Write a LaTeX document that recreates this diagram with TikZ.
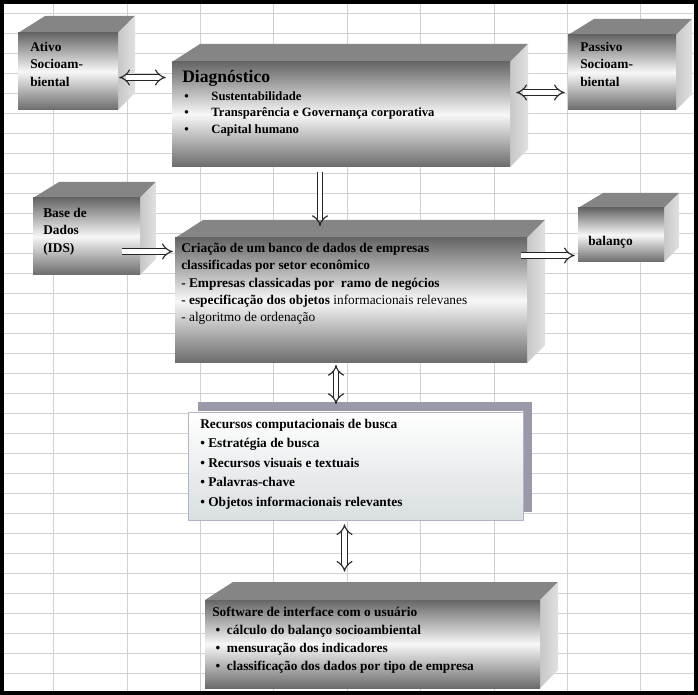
\documentclass[tikz,border=0pt]{standalone}
\usepackage{fontspec}
\setmainfont{Liberation Serif}
\usetikzlibrary{calc,fit,arrows.meta}

\tikzset{
  topface/.style={fill=black!48},
  sideface/.style={left color=black!22, right color=black!12},
  frontface/.style={top color=black!60, bottom color=black!58, middle color=black!3},
  txt/.style={anchor=north west, align=left, inner sep=0pt, font=\fontsize{9.5}{12.3}\selectfont\bfseries},
  harrow/.style={double=white, double distance=3.2pt, line width=0.8pt, draw=black!85},
  gridline/.style={draw=blue!20!black!18, line width=0.5pt}
}
% cube: name, x0, y0, x1, y1, depth
\newcommand\cube[6]{%
  \fill[topface] (#2,#3) -- (#2+#6+10,#3-#6) -- (#4+#6,#3-#6) -- (#4,#3) -- cycle;
  \shade[sideface] (#4,#3) -- (#4+#6,#3-#6) -- (#4+#6,#5-#6) -- (#4,#5) -- cycle;
  \shade[frontface] (#2,#3) rectangle (#4,#5);
  \coordinate (#1-nw) at (#2,#3);
  \coordinate (#1-se) at (#4,#5);
  \node[fit=(#1-nw)(#1-se), inner sep=0pt] (#1) {};
}

\begin{document}
\begin{tikzpicture}[x=0.025cm, y=-0.025cm]
  \useasboundingbox (0,0) rectangle (698,695);
  \fill[white] (0,0) rectangle (698,695);

  % grid
  \foreach \gx in {53,127,200,273,347,420,494,567,640}
    \draw[gridline] (\gx,4) -- (\gx,691);
  \foreach \gy in {13,33,...,693}
    \draw[gridline] (4,\gy) -- (694,\gy);

  % boxes
  \cube{ativo}{18}{33}{118}{110}{17}
  \cube{diag}{172}{62}{510}{167}{18}
  \cube{passivo}{568}{35}{676}{110}{16}
  \cube{base}{33}{198}{140}{275}{16}
  \cube{crea}{175}{238}{527}{363}{18}
  \cube{balanco}{578}{208}{664}{262}{15}
  \cube{soft}{205}{600}{540}{688}{18}

  % recursos box
  \fill[fill=blue!15!black!40] (198,402) rectangle (532,512);
  \shade[top color=white, bottom color=blue!30!cyan!20!black!15, draw=blue!30!black!30]
    (188,412) rectangle (523,520);
  \coordinate (rec-nw) at (188,412);
  \coordinate (rec-se) at (523,520);
  \node[fit=(rec-nw)(rec-se), inner sep=0pt] (rec) {};

  % texts
  \node[txt] (tativo) at (30,42) {Ativo\\Socioam-\\biental};
  \node[txt] (tpassivo) at (580,42) {Passivo\\Socioam-\\biental};
  \node[txt] (tbase) at (43,208) {Base de\\Dados\\(IDS)};
  \node[txt] (tbal) at (588,236) {balanço};
  \node[txt, font=\fontsize{12.5}{14}\selectfont\bfseries] (tdiag) at (182,70) {Diagnóstico};
  \node[txt, font=\fontsize{9}{11.8}\selectfont\bfseries] (tdiagl) at (184,91)
    {\textbullet\hspace{1.8em}Sustentabilidade\\
     \textbullet\hspace{1.8em}Transparência e Governança corporativa\\
     \textbullet\hspace{1.8em}Capital humano};
  \node[txt] (tcrea) at (181,243)
    {Criação de um banco de dados de empresas\\
     classificadas por setor econômico\\
     - Empresas classicadas por\ \ ramo de negócios\\
     - especificação dos objetos \mdseries informacionais relevanes\\
     \mdseries - algoritmo de ordenação};
  \node[txt, font=\fontsize{9.5}{13.8}\selectfont\bfseries] (trec) at (200,419)
    {Recursos computacionais de busca\\
     \textbullet\ Estratégia de busca\\
     \textbullet\ Recursos visuais e textuais\\
     \textbullet\ Palavras-chave\\
     \textbullet\ Objetos\ informacionais relevantes};
  \node[txt, font=\fontsize{9.5}{12.8}\selectfont\bfseries] (tsoft) at (212,607)
    {Software de interface com o usuário\\
     \ \textbullet\ \ cálculo do balanço socioambiental\\
     \ \textbullet\ \ mensuração dos indicadores\\
     \ \textbullet\ \ classificação dos dados por tipo de empresa};

  % connectors
  \draw[harrow, {Implies}-{Implies}] ($(ativo.east)+(1,6)$) -- ($(ativo.east -| diag.west)+(-6,6)$);
  \draw[harrow, {Implies}-{Implies}] ($(diag.east)+(6,-22)$) -- ($(diag.east -| passivo.west)+(-3,-22)$);
  \draw[harrow, -{Implies}] (320,172) -- (320,226);
  \draw[harrow, -{Implies}] ($(base.east)+(-18,15)$) -- ($(base.east -| crea.west)+(-2,15)$);
  \draw[harrow, -{Implies}] ($(crea.east)+(-6,-45)$) -- ($(crea.east -| balanco.west)+(-3,-45)$);
  \draw[harrow, {Implies}-{Implies}] (336,365) -- (336,404);
  \draw[harrow, {Implies}-{Implies}] ($(rec.south)+(-11,4)$) -- ($(rec.south |- soft.north)+(-11,-28)$);

  % frame
  \draw[line width=2.2pt] (2,2) rectangle (696,693);
\end{tikzpicture}
\end{document}
